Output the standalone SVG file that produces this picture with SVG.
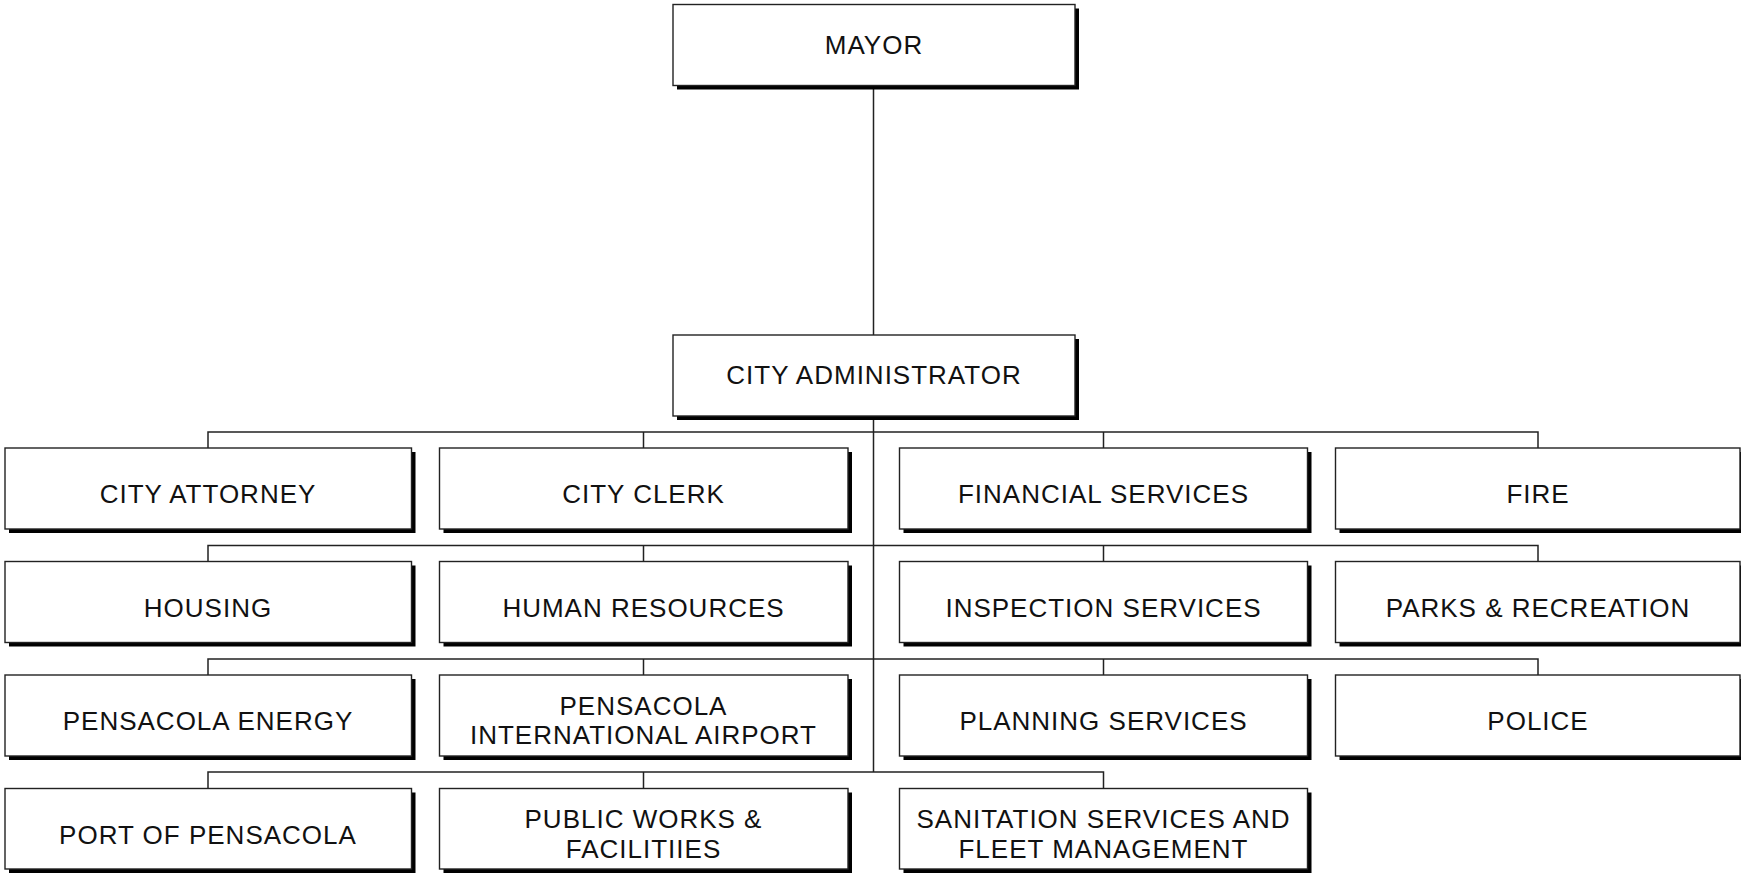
<svg xmlns="http://www.w3.org/2000/svg" width="1741" height="873" viewBox="0 0 1741 873">
<style>
.sh{fill:#000}
.bx{fill:#fff;stroke:#222;stroke-width:1.4}
.t{font-family:"Liberation Sans",Arial,sans-serif;font-size:26px;fill:#111;text-anchor:middle;letter-spacing:1px}
.c{fill:none;stroke:#222;stroke-width:1.5}
</style>
<rect width="1741" height="873" fill="#fff"/>
<g id="connectors">
<path class="c" d="M873.5 85V335M873.5 416V772"/>
<path class="c" d="M208 448V432H1538V448M643.5 432V448M1103.5 432V448"/>
<path class="c" d="M208 561.5V545.5H1538V561.5M643.5 545.5V561.5M1103.5 545.5V561.5"/>
<path class="c" d="M208 675V659H1538V675M643.5 659V675M1103.5 659V675"/>
<path class="c" d="M208 788.5V772H1103.5V788.5M643.5 772V788.5"/>
</g>
<g id="mayor"><rect class="sh" x="677" y="8.5" width="402" height="81"/><rect class="bx" x="673" y="4.5" width="402" height="81"/><text class="t" x="874" y="54">MAYOR</text></g>
<g id="city-administrator"><rect class="sh" x="677" y="339" width="402" height="81"/><rect class="bx" x="673" y="335" width="402" height="81"/><text class="t" x="874" y="384">CITY ADMINISTRATOR</text></g>

<g id="city-attorney"><rect class="sh" x="9" y="452" width="406.5" height="81"/><rect class="bx" x="5" y="448" width="406.5" height="81"/><text class="t" x="208" y="503">CITY ATTORNEY</text></g>
<g id="city-clerk"><rect class="sh" x="443.5" y="452" width="408.5" height="81"/><rect class="bx" x="439.5" y="448" width="408.5" height="81"/><text class="t" x="643.5" y="503">CITY CLERK</text></g>
<g id="financial-services"><rect class="sh" x="903.5" y="452" width="408" height="81"/><rect class="bx" x="899.5" y="448" width="408" height="81"/><text class="t" x="1103.5" y="503">FINANCIAL SERVICES</text></g>
<g id="fire"><rect class="sh" x="1339.5" y="452" width="404.5" height="81"/><rect class="bx" x="1335.5" y="448" width="404.5" height="81"/><text class="t" x="1538" y="503">FIRE</text></g>

<g id="housing"><rect class="sh" x="9" y="565.5" width="406.5" height="81"/><rect class="bx" x="5" y="561.5" width="406.5" height="81"/><text class="t" x="208" y="616.5">HOUSING</text></g>
<g id="human-resources"><rect class="sh" x="443.5" y="565.5" width="408.5" height="81"/><rect class="bx" x="439.5" y="561.5" width="408.5" height="81"/><text class="t" x="643.5" y="616.5">HUMAN RESOURCES</text></g>
<g id="inspection-services"><rect class="sh" x="903.5" y="565.5" width="408" height="81"/><rect class="bx" x="899.5" y="561.5" width="408" height="81"/><text class="t" x="1103.5" y="616.5">INSPECTION SERVICES</text></g>
<g id="parks-recreation"><rect class="sh" x="1339.5" y="565.5" width="404.5" height="81"/><rect class="bx" x="1335.5" y="561.5" width="404.5" height="81"/><text class="t" x="1538" y="616.5">PARKS &amp; RECREATION</text></g>

<g id="pensacola-energy"><rect class="sh" x="9" y="679" width="406.5" height="81"/><rect class="bx" x="5" y="675" width="406.5" height="81"/><text class="t" x="208" y="730">PENSACOLA ENERGY</text></g>
<g id="pensacola-international-airport"><rect class="sh" x="443.5" y="679" width="408.5" height="81"/><rect class="bx" x="439.5" y="675" width="408.5" height="81"/><text class="t" x="643.5" y="714.5">PENSACOLA</text><text class="t" x="643.5" y="744">INTERNATIONAL AIRPORT</text></g>
<g id="planning-services"><rect class="sh" x="903.5" y="679" width="408" height="81"/><rect class="bx" x="899.5" y="675" width="408" height="81"/><text class="t" x="1103.5" y="730">PLANNING SERVICES</text></g>
<g id="police"><rect class="sh" x="1339.5" y="679" width="404.5" height="81"/><rect class="bx" x="1335.5" y="675" width="404.5" height="81"/><text class="t" x="1538" y="730">POLICE</text></g>

<g id="port-of-pensacola"><rect class="sh" x="9" y="792.5" width="406.5" height="80.5"/><rect class="bx" x="5" y="788.5" width="406.5" height="80.5"/><text class="t" x="208" y="843.5">PORT OF PENSACOLA</text></g>
<g id="public-works-facilities"><rect class="sh" x="443.5" y="792.5" width="408.5" height="80.5"/><rect class="bx" x="439.5" y="788.5" width="408.5" height="80.5"/><text class="t" x="643.5" y="827.5">PUBLIC WORKS &amp;</text><text class="t" x="643.5" y="857.5">FACILITIIES</text></g>
<g id="sanitation-fleet"><rect class="sh" x="903.5" y="792.5" width="408" height="80.5"/><rect class="bx" x="899.5" y="788.5" width="408" height="80.5"/><text class="t" x="1103.5" y="827.5">SANITATION SERVICES AND</text><text class="t" x="1103.5" y="857.5">FLEET MANAGEMENT</text></g>
</svg>
